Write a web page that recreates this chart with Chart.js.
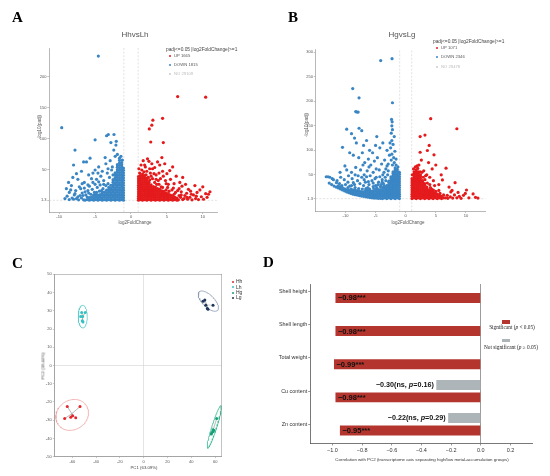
<!DOCTYPE html>
<html><head><meta charset="utf-8">
<script src="https://cdn.jsdelivr.net/npm/chart.js@4.4.1/dist/chart.umd.min.js"></script>
<style>
html,body{margin:0;padding:0;background:#fff;}
#wrap{position:relative;width:550px;height:476px;overflow:hidden;background:#fff;}
canvas{position:absolute;}
.t{position:absolute;white-space:nowrap;transform-origin:0 0;}
.dot{position:absolute;border-radius:50%;}
.box{position:absolute;}
</style></head><body><div id="wrap"></div>
<script>
// ---------------- DATA ----------------
// Panel A: HhvsLh volcano (log2FoldChange, -log10(padj))
const A_title = 'HhvsLh';
const A_counts = [1665, 1815, 29109];
const A_up_cols = [
 [1.05,[1.5,4.5,8,11.5,15,18.5,22,25.5,29,32.5,36,39.5]],
 [1.3,[2.5,6,9.5,13,16.5,20,23.5,27,30.5,34,37.5,41]],
 [1.6,[1.5,5,8.5,12,15.5,19,22.5,26,29.5,33,36.5,40,43.5]],
 [1.9,[2.5,6,9.5,13,16.5,20,23.5,27,30.5,34,37.5,41]],
 [2.2,[1.5,5,8.5,12,15.5,19,22.5,26,29.5,33,36.5]],
 [2.5,[2.5,6,9.5,13,16.5,20,23.5,27,30.5]],
 [2.8,[1.5,5,8.5,12,15.5,19,22.5,26]],
 [3.1,[2.5,6,9.5,13,16.5,20,23.5]],
 [3.4,[1.5,5,8.5,12,15.5,19,22.5]],
 [3.7,[2.5,6,9.5,13,16.5,20]],
 [4.0,[1.5,5,8.5,12,15.5,19]],
 [4.3,[2.5,6,9.5,13,16.5]],
 [4.6,[1.5,5,8.5,12,15.5]],
 [4.9,[2.5,6,9.5,13]],
 [5.2,[1.5,5,8.5,12]],
 [5.5,[2.5,6,9.5]],
 [5.8,[1.5,5,8.5]],
 [6.1,[2.5,6]],
 [6.4,[1.5,5]]
];
const A_up_pts = [
 [4.2,23],[3.9,27],[4.4,22],[4.9,18],[5.3,16],[6.0,11],[6.7,9],
 [1.2,45],[1.5,50],[1.8,47],[2.1,42],[2.4,38],[2.0,55],[2.3,68],[2.5,64],[1.4,58],[2.7,45],[3.0,36],[3.3,30],[3.5,42],[3.0,52],[3.8,33],[4.3,70],[4.7,60],[3.3,54],[5.4,49],[4.9,28],[1.1,52],[2.6,34],[3.6,27],[5.1,22],[4.5,40],[2.9,60],[1.7,65],[5.5,35],[6.0,28],[6.8,30],[7.2,38],[5.8,55],[4.0,58],[3.7,63],[2.2,48],[2.8,40],
 [3.2,44],[4.1,36],[4.8,33],[5.2,27],[5.9,21],[6.5,17],[7.1,24],[3.5,35],[2.6,52],[1.9,58],[4.4,48],[5.0,44],[6.3,40],[7.6,27],[8.3,16],[3.9,45],
 [6.6,2],[6.9,6],[7.2,2.5],[7.5,9],[7.75,12.6],[7.9,3],[8.2,6],[8.5,2],[8.7,10],[9.0,4],[9.2,14],[9.6,18],[9.8,7],[10.0,23],[10.1,3],[10.4,12],[10.8,11],[7.0,15],[8.0,19],[6.7,20],[9.4,2.5],[10.6,6],[8.9,25],[6.2,14],[5.7,18],[7.4,4],[11.0,15],[7.0,10],[7.8,6],[8.4,11],[9.1,8],
 [6.5,168],[10.4,167],[4.4,133],[3.05,130],[2.9,122],[2.55,116],[2.75,95],[4.5,94]
];
const A_down_cols = [
 [-1.05,[1.5,5.5,9.5,13.5,17.5,21.5,25.5,29.5,33.5,37.5,41.5,45.5,49.5,53]],
 [-1.3,[2.5,6.5,10.5,14.5,18.5,22.5,26.5,30.5,34.5,38.5,42.5,46.5,50.5,54.5,58.5,62]],
 [-1.6,[1.5,5.5,9.5,13.5,17.5,21.5,25.5,29.5,33.5,37.5,41.5,45.5,49.5,53.5,57.5,61.5,65.5,69]],
 [-1.9,[2.5,6.5,10.5,14.5,18.5,22.5,26.5,30.5,34.5,38.5,42.5,46.5,50.5,54.5,58.5]],
 [-2.2,[1.5,5.5,9.5,13.5,17.5,21.5,25.5,29.5,33.5,37.5,41.5,45.5]],
 [-2.5,[2.5,6.5,10.5,14.5,18.5,22.5,26.5,30.5,34.5]],
 [-2.8,[1.5,5.5,9.5,13.5,17.5,21.5,25.5]],
 [-3.1,[2.5,6.5,10.5,14.5,18.5,22]],
 [-3.4,[1.5,5.5,9.5,13.5,17.5]],
 [-3.7,[2.5,6.5,10.5,14.5]],
 [-4.0,[1.5,5.5,9.5,13.5]],
 [-4.3,[2.5,6.5,10.5]],
 [-4.6,[1.5,5.5,9.5]],
 [-4.9,[2.5,6.5,10.5]],
 [-5.2,[1.5,5.5,9.5]],
 [-5.5,[2.5,6.5]],
 [-5.8,[1.5,5.5]],
 [-6.1,[2.5,6.5]],
 [-6.4,[1.5]]
];
const A_down_pts = [
 [-4.1,17],[-4.4,16],[-4.8,14],[-5.1,14],[-5.4,19],[-4.7,22],[-3.9,20],[-4.3,26],[-5.9,13],[-6.4,15],[-6.6,2],[-6.9,5],[-7.1,9],[-7.3,2],[-7.6,4],[-6.7,9],[-6.3,10],
 [-5.6,11],[-6.0,17],[-6.8,13],[-7.4,7],[-7.9,10],[-8.2,5],[-7.7,17],[-7.2,23],[-6.5,21],[-5.8,24],[-5.0,27],[-4.5,31],[-3.8,27],[-5.5,36],[-6.8,28],[-7.6,44],[-8.7,30],[-8.1,38],[-9.0,20],[-8.6,2.5],[-5.3,45],[-4.6,45],[-3.2,52],
 [-2.9,65],[-3.6,70],[-2.2,72],[-1.9,75],[-2.6,55],[-3.3,45],[-3.0,38],[-3.8,33],[-4.2,40],[-4.8,35],[-5.3,30],[-5.7,69],[-6.2,63],[-6.6,63],[-8.0,58],[-7.8,82],[-6.9,48],[-7.4,35],[-6.0,26],[-8.3,25],[-8.6,14],[-8.9,8],[-9.2,4],[-8.4,18],[-7.0,20],[-5.0,50],[-4.5,55],[-3.5,60],[-2.4,82],[-2.1,90],[-2.05,96],[-2.8,94],[-2.37,107],[-3.16,107],[-3.4,105],[-6.5,30],[-7.8,12],[-8.0,3],[-5.9,42],[-4.0,48],[-2.7,50],[-3.2,28],[-1.4,72],[-1.2,66],[-2.5,42],[-3.5,25],
 [-4.55,233],[-9.65,118],[-5.0,98.5]
];

// Panel B: HgvsLg volcano
const B_title = 'HgvsLg';
const B_counts = [1071, 2346, 29478];
const B_up_cols = [
 [1.05,[1.5,6,10.5,15,19.5,24,28.5,33,37.5,42]],
 [1.4,[3,7.5,12,16.5,21,25.5,30,34.5,39,43.5,48,52.5,56]],
 [1.75,[1.5,6,10.5,15,19.5,24,28.5,33,37.5,42,46.5,51,55.5,60]],
 [2.1,[3,7.5,12,16.5,21,25.5,30,34.5,39,43.5,48,52.5,56]],
 [2.45,[1.5,6,10.5,15,19.5,24,28.5,33,37.5,42,46.5,50]],
 [2.8,[3,7.5,12,16.5,21,25.5,30,34.5,38]],
 [3.15,[1.5,6,10.5,15,19.5,24,28.5,32]],
 [3.5,[3,7.5,12,16.5,21,25]],
 [3.85,[1.5,6,10.5,15,19.5]],
 [4.2,[3,7.5,12,16.5]],
 [4.55,[1.5,6,10.5,15]],
 [4.9,[3,7.5,12]],
 [5.25,[1.5,6,10.5]],
 [5.6,[3,7.5]],
 [5.95,[1.5,6]],
 [6.3,[3]]
];
const B_up_pts = [
 [4.3,21],[4.6,19],[5.0,16],[5.7,12],[6.3,9],[6.6,3],[6.9,8],[5.5,18],[4.1,24],
 [1.3,62],[1.6,66],[2.0,63],[2.4,56],[2.9,45],[3.2,40],[3.6,33],[4.0,30],[2.2,70],[3.0,58],[3.5,50],[4.0,45],[4.6,38],[5.0,70],[6.7,63.5],[6.1,39.6],[8.2,34],[5.5,30],[3.8,75],[2.6,80],[7.2,25],[1.1,50],[4.4,62],[7.5,15],[5.9,50],[1.9,68],[2.7,55],[3.3,48],[4.8,28],
 [7.0,2],[7.4,5],[7.8,2.5],[8.1,9],[8.5,3],[8.9,6],[9.2,2],[9.6,8],[10.1,19],[10.5,3],[11.2,10.9],[11.6,4],[9.9,12],[8.7,14],[12.0,2.5],[7.7,18],
 [4.15,164.5],[8.5,144],[2.4,128],[3.2,131],[3.6,99.6],[2.4,96],[4.7,90.8],[3.9,110]
];
const B_down_cols = [
 [-1.05,[1.5,6,10.5,15,19.5,24,28.5,33,37.5,42,46.5,51,55]],
 [-1.4,[3,7.5,12,16.5,21,25.5,30,34.5,39,43.5,48,52.5,57,61]],
 [-1.75,[1.5,6,10.5,15,19.5,24,28.5,33,37.5,42,46.5,51,55.5,60,64]],
 [-2.1,[3,7.5,12,16.5,21,25.5,30,34.5,39,43.5,48,52.5,56]],
 [-2.45,[1.5,6,10.5,15,19.5,24,28.5,33,37.5,42,46]],
 [-2.8,[3,7.5,12,16.5,21,25.5,30,34.5,37]],
 [-3.15,[1.5,6,10.5,15,19.5,24,28]],
 [-3.5,[3,7.5,12,16.5,21,24.5]],
 [-3.85,[1.5,6,10.5,15,19.5,24]],
 [-4.2,[2,6.5,11,15.5,20]],
 [-4.55,[2,6.5,11,15.5,20]],
 [-4.9,[2.5,7,11.5,16,20.5]],
 [-5.25,[2.5,7,11.5,16]],
 [-5.6,[3,7.5,12,16.5]],
 [-5.95,[3.5,8,12.5,17]],
 [-6.3,[4.5,9,13.5,18]],
 [-6.65,[5,9.5,14,18.5]],
 [-7.0,[6,10.5,15]],
 [-7.35,[6.5,11,15.5]],
 [-7.7,[7.5,12,16.5]],
 [-8.05,[8.5,13,17.5]],
 [-8.4,[9.5,14,18.5]],
 [-8.75,[10.5,15,19.5]],
 [-9.1,[12,16.5,21]],
 [-9.45,[13.5,18]],
 [-9.8,[15,19.5]],
 [-10.15,[17,21.5]],
 [-10.5,[19,23.5]],
 [-10.85,[21,25.5]],
 [-11.2,[23,27.5]],
 [-11.55,[25]],
 [-11.9,[27]],
 [-12.3,[30]],
 [-12.7,[33]]
];
const B_down_pts = [
 [-13.2,46],[-12.9,46],[-12.6,45],
 [-2.2,70],[-1.9,75],[-2.4,80],[-2.0,85],[-2.3,92],[-1.8,98],[-2.5,105],[-2.1,112],[-2.3,120],[-1.9,128],[-2.4,135],[-2.2,142],[-2.3,150],[-2.25,158],[-2.35,163],[-2.2,197],[-2.7,90],[-2.9,72],[-1.6,82],[-2.6,115],[-3.1,100],[-1.3,66],[-1.6,70],
 [-8.8,226],[-7.75,207],[-8.3,179],[-7.9,178],[-8.1,178],[-9.8,143],[-7.75,145],[-7.3,140],[-9.0,134],[-8.5,125],[-4.8,128],[-10.5,106],[-10.1,68],[-8.2,115],[-7.0,110],[-6.5,120],[-6.0,100],[-5.5,95],[-5.0,110],[-4.3,105],[-3.8,115],[-9.3,95],[-8.7,90],[-7.8,85],[-7.2,95],[-6.8,75],[-6.2,82],[-5.8,70],[-5.2,78],[-4.7,85],[-4.0,72],[-3.5,80],[-9.8,60],[-9.0,55],[-8.3,65],[-7.5,60],[-6.9,50],[-6.4,58],[-5.9,48],[-5.4,55],[-4.9,45],[-4.4,60],[-3.8,50],[-3.3,62],[-10.8,45],[-10.2,40],[-9.6,35],[-8.9,42],[-8.0,38],[-7.3,45],[-6.7,35],[-6.1,30],[-5.6,38],[-5.0,28],[-4.5,35],[-3.9,40],[-3.4,45],[-3.0,50],[-11.4,38],[-12.0,40],[-7.0,28],[-8.5,30],[-9.3,27],[-10.0,30],[-6.3,24],[-5.3,22],[-4.1,30],[-3.7,32],[-11.0,32],
 [-9.6,24],[-9.0,28],[-8.4,24],[-7.8,22],[-7.2,21],[-6.6,22],[-6.0,21],[-5.4,26],[-4.8,24],[-4.2,26],[-3.6,28],[-8.7,34],[-7.6,32],[-6.9,40],[-6.2,36],[-5.4,33],[-4.6,30],[-3.9,35],[-3.3,38],[-10.6,28],[-11.5,34],[-12.2,42],[-7.9,48],[-6.5,46],[-5.1,42],[-4.3,46],[-3.6,55],[-2.9,58],[-3.1,68],[-4.9,62],[-6.1,66],[-7.1,70],[-8.4,50],[-9.5,48],[-10.9,55],
 [-4.15,283],[-2.27,287]
];
const volClasses = ['UP','DOWN','NO'];
const lfcCut = 1, padjCut = 1.3;
const volXTicks = [-10,-5,0,5,10];
const A_yTicks = [1.3,50,100,150,200];
const B_yTicks = [1.3,50,100,150,200,250,300];

// Panel C: PCA
const pcaGroups = ['Hh','Lh','Hg','Lg'];
const Hh_pc1 = [-64.2,-53.5,-66.4,-61.3,-59.7,-57.1];
const Hh_pc2 = [-22.5,-22.5,-29.1,-28.4,-27.5,-28.7];
const Lh_pc1 = [-52.1,-49.1,-52.9,-51.3,-51.6,-51.0];
const Lh_pc2 = [29.1,29.1,26.9,26.9,24.6,23.8];
const Hg_pc1 = [61.3,58.2,57.1,56.8,58.8,58.0];
const Hg_pc2 = [-29.1,-35.2,-37.0,-37.5,-35.5,-36.3];
const Lg_pc1 = [49.8,51.3,52.1,53.4,54.0,58.2];
const Lg_pc2 = [35.2,35.9,33.1,31.3,30.9,33.0];
// ellipse: centre (pc1,pc2) and two semi-axis vectors
const Hh_ell = [-60.1,-27.1, 12.9,3.95, -4.6,7.5];
const Lh_ell = [-51.2,26.8, 3.8,0, 0,6.2];
const Hg_ell = [59.3,-33.7, 5.6,11.7, 2.0,-0.41];
const Lg_ell = [54.3,35.3, 7.7,-5.05, 3.56,2.33];
const pcaXTicks = [-60,-40,-20,0,20,40,60];
const pcaYTicks = [-50,-40,-30,-20,-10,0,10,20,30,40,50];

// Panel D: correlation with PC2
const traits = ['Shell height','Shell length','Total weight','Cu content','Zn content'];
const sigR = [-0.98,-0.98,-0.99,-0.98,-0.95];
const nsR = [null,null,null,-0.30,-0.22];
const nsP = [null,null,null,0.16,0.29];
const corrTicks = [-1.0,-0.8,-0.6,-0.4,-0.2,0.0,0.2];

// ---------------- STYLE / HELPERS ----------------
const FONT = "'Liberation Sans', Arial, sans-serif";
const SERIF = "'Liberation Serif', 'Times New Roman', serif";
const RED = '#E41A1C', BLUE = '#3A86C5', NOCOL = '#CCCCCC';
const DRED = '#B3352D', DGREY = '#ADB5B8';
const PR = 1.6;
const wrap = document.getElementById('wrap');
const K = 4;
function T(html, x, y, size, o = {}) {
  const d = document.createElement('div'); d.className = 't';
  d.innerHTML = html;
  d.style.fontFamily = o.family || FONT;
  d.style.fontSize = (size*K)+'px';
  d.style.lineHeight = (size*K)+'px';
  d.style.fontWeight = o.weight || 'normal';
  d.style.color = o.color || '#000';
  if (o.rot) {
    d.style.left = x+'px'; d.style.top = y+'px';
    d.style.transform = `rotate(-90deg) scale(${1/K}) translate(-50%,-50%)`;
  } else {
    d.style.left = x+'px'; d.style.top = (y - 0.845*size)+'px';
    const tx = o.align === 'center' ? '-50%' : o.align === 'right' ? '-100%' : '0';
    d.style.transform = `scale(${1/K}) translateX(${tx})`;
  }
  wrap.appendChild(d);
}
function dot(x, y, r, c) {
  const d = document.createElement('div'); d.className = 'dot';
  d.style.left = (x-r)+'px'; d.style.top = (y-r)+'px';
  d.style.width = (2*r)+'px'; d.style.height = (2*r)+'px'; d.style.background = c;
  wrap.appendChild(d);
}
function rect(x, y, w, h, c) {
  const d = document.createElement('div'); d.className = 'box';
  d.style.left = x+'px'; d.style.top = y+'px'; d.style.width = w+'px'; d.style.height = h+'px'; d.style.background = c;
  wrap.appendChild(d);
}
function mk(id, box) {
  const c = document.createElement('canvas');
  c.id = id; c.width = box[2]; c.height = box[3];
  c.style.left = box[0]+'px'; c.style.top = box[1]+'px';
  c.style.width = box[2]+'px'; c.style.height = box[3]+'px';
  wrap.appendChild(c); return c;
}
function fit(box, area) {
  return { padding: {left: 0, top: area[1]-box[1], right: box[0]+box[2]-area[2], bottom: 0},
           yw: area[0]-box[0], xh: box[1]+box[3]-area[3] };
}
const colsToPts = cols => { const o = []; cols.forEach(([x, ys]) => ys.forEach(y => o.push({x, y}))); return o; };
const pairsToPts = a => a.map(([x, y]) => ({x, y}));
const fmtR = v => (v < 0 ? '\u2212' : '') + Math.abs(v).toFixed(2);

// ---------------- VOLCANO ----------------
function volcano(id, box, area, up, down, xr, yr, yTicks) {
  const f = fit(box, area);
  const ln = (a, b) => ({type:'line', data:[a, b], borderColor:'#cfcfcf', borderWidth:0.6, borderDash:[2,1.6], pointRadius:0, showLine:true, order:5});
  const ax = (ticks, sizeKey, sizeVal, cb) => ({
    type:'linear',
    afterFit: s => { s[sizeKey] = sizeVal; },
    afterBuildTicks: s => { s.ticks = ticks.map(v => ({value:v})); },
    ticks:{font:{size:4,family:FONT}, color:'#555', padding:0.8, callback: cb || (v => String(v)), autoSkip:false, maxRotation:0},
    grid:{drawOnChartArea:false, tickLength:2, tickColor:'#888', tickWidth:0.5},
    border:{color:'#888', width:0.6}
  });
  const xs = ax(volXTicks, 'height', f.xh); xs.min = xr[0]; xs.max = xr[1];
  const ys = ax(yTicks, 'width', f.yw, v => v === padjCut ? '1.3' : String(v)); ys.min = yr[0]; ys.max = yr[1];
  new Chart(mk(id, box), {
    type:'scatter',
    data:{datasets:[
      {data: up, backgroundColor: RED, borderWidth:0, pointRadius:PR, order:1},
      {data: down, backgroundColor: BLUE, borderWidth:0, pointRadius:PR, order:1},
      ln({x:-lfcCut, y:yr[0]}, {x:-lfcCut, y:yr[1]}),
      ln({x:lfcCut, y:yr[0]}, {x:lfcCut, y:yr[1]}),
      ln({x:xr[0], y:padjCut}, {x:xr[1], y:padjCut})
    ]},
    options:{responsive:false, animation:false, events:[], layout:{padding:f.padding},
      plugins:{legend:{display:false}, tooltip:{enabled:false}},
      scales:{x:xs, y:ys}}
  });
}

volcano('cA', [0,0,275,240], [49.3,48,217,212],
  colsToPts(A_up_cols).concat(pairsToPts(A_up_pts)),
  colsToPts(A_down_cols).concat(pairsToPts(A_down_pts)),
  [-11.38, 11.98], [-17.5, 246], A_yTicks);
volcano('cB', [275,0,275,240], [315.7,49,485.7,211],
  colsToPts(B_up_cols).concat(pairsToPts(B_up_pts)),
  colsToPts(B_down_cols).concat(pairsToPts(B_down_pts)),
  [-14.95, 13.29], [-23.9, 306.7], B_yTicks);

// ---------------- PCA ----------------
(function(){
  const box = [0,250,260,226], area = [54.3,274.3,221.7,456.7];
  const f = fit(box, area);
  const G = [
    {pc1:Hh_pc1, pc2:Hh_pc2, ell:Hh_ell, col:'#E5262B', ecol:'#F0A2A2'},
    {pc1:Lh_pc1, pc2:Lh_pc2, ell:Lh_ell, col:'#35C0C2', ecol:'#5FCACB'},
    {pc1:Hg_pc1, pc2:Hg_pc2, ell:Hg_ell, col:'#179E78', ecol:'#33B78F'},
    {pc1:Lg_pc1, pc2:Lg_pc2, ell:Lg_ell, col:'#1D3557', ecol:'#8B9AB4'}
  ];
  const ds = [];
  G.forEach(g => {
    const pts = g.pc1.map((x, i) => ({x, y:g.pc2[i]}));
    const c = {x: g.pc1.reduce((a,b)=>a+b,0)/g.pc1.length, y: g.pc2.reduce((a,b)=>a+b,0)/g.pc2.length};
    const e = g.ell, ep = [];
    for (let k = 0; k <= 80; k++) { const t = 2*Math.PI*k/80;
      ep.push({x: e[0] + e[2]*Math.cos(t) + e[4]*Math.sin(t), y: e[1] + e[3]*Math.cos(t) + e[5]*Math.sin(t)}); }
    const star = []; pts.forEach(p => { star.push(c); star.push(p); });
    ds.push({type:'line', data:ep, borderColor:g.ecol, borderWidth:0.8, pointRadius:0, showLine:true, tension:0, order:3});
    ds.push({type:'line', data:star, borderColor:'#A8A8A8', borderWidth:0.5, pointRadius:0, showLine:true, tension:0, order:2});
    ds.push({data:pts, backgroundColor:g.col, borderWidth:0, pointRadius:1.5, order:1});
  });
  const zeroGrid = c => (c.tick && c.tick.value === 0) ? '#d2d2d2' : 'rgba(0,0,0,0)';
  const ax = (ticks, key, val, mn, mx) => ({
    type:'linear', min:mn, max:mx,
    afterFit: s => { s[key] = val; },
    afterBuildTicks: s => { s.ticks = ticks.map(v => ({value:v})); },
    ticks:{font:{size:4,family:FONT}, color:'#555', padding:1.2, autoSkip:false, maxRotation:0, callback: v => String(v)},
    grid:{color:zeroGrid, lineWidth:0.6, tickLength:1.5, tickColor:'#999', tickWidth:0.5},
    border:{color:'#888', width:0.6}
  });
  const frame = {id:'frame', afterDraw(ch){ const a = ch.chartArea, x = ch.ctx; x.save(); x.strokeStyle = '#9a9a9a'; x.lineWidth = 0.6; x.strokeRect(a.left, a.top, a.right-a.left, a.bottom-a.top); x.restore(); }};
  new Chart(mk('cC', box), {
    type:'scatter', data:{datasets:ds},
    options:{responsive:false, animation:false, events:[], layout:{padding:f.padding},
      plugins:{legend:{display:false}, tooltip:{enabled:false}},
      scales:{x:ax(pcaXTicks, 'height', f.xh, -75.1, 65.5), y:ax(pcaYTicks, 'width', f.yw, -50, 50)}},
    plugins:[frame]
  });
  // legend
  const ly = [281.7, 287.1, 292.6, 298];
  pcaGroups.forEach((g, i) => { dot(232.7, ly[i], 1.1, G[i].col); T(g, 236.3, ly[i]+1.7, 5, {color:'#333'}); });
})();

// ---------------- CORRELATION BARS ----------------
(function(){
  const box = [262,270,288,206], area = [310.7,284,532.7,443];
  const f = fit(box, area);
  const labels = {id:'barLabels', afterDatasetsDraw(ch){
    const ctx = ch.ctx; ctx.save(); ctx.fillStyle = '#111'; ctx.textBaseline = 'middle';
    ch.getDatasetMeta(1).data.forEach((el, i) => {
      ctx.font = `bold 7.5px ${FONT}`; ctx.textAlign = 'left';
      ctx.fillText(fmtR(sigR[i]) + '***', el.x + 2.5, el.y + 0.4);
    });
    ch.getDatasetMeta(0).data.forEach((el, i) => {
      if (nsR[i] == null) return;
      const parts = [[fmtR(nsR[i]) + '(ns, ', 'bold '], ['p', 'italic bold '], ['=' + nsP[i].toFixed(2) + ')', 'bold ']];
      let w = 0; parts.forEach(p => { ctx.font = p[1] + '7.2px ' + FONT; w += ctx.measureText(p[0]).width; });
      let x = el.x - 2.5 - w; ctx.textAlign = 'left';
      parts.forEach(p => { ctx.font = p[1] + '7.2px ' + FONT; ctx.fillText(p[0], x, el.y + 0.4); x += ctx.measureText(p[0]).width; });
    });
    ctx.restore();
  }};
  new Chart(mk('cD', box), {
    type:'bar',
    data:{datasets:[
      {label:'Not significant', data: traits.map((t, i) => ({x:nsR[i], y:i})), backgroundColor:DGREY, borderWidth:0},
      {label:'Significant', data: traits.map((t, i) => ({x:sigR[i], y:i})), backgroundColor:DRED, borderWidth:0}
    ]},
    options:{indexAxis:'y', responsive:false, animation:false, events:[], layout:{padding:f.padding},
      datasets:{bar:{categoryPercentage:0.75, barPercentage:0.8}},
      plugins:{legend:{display:false}, tooltip:{enabled:false}},
      scales:{
        y:{type:'linear', reverse:true, min:-0.232, max:4.564, offset:false,
           afterFit: s => { s.width = f.yw; },
           afterBuildTicks: s => { s.ticks = traits.map((t, i) => ({value:i})); },
           ticks:{font:{size:5.4,family:FONT}, color:'#333', padding:1, autoSkip:false, callback: v => traits[v]},
           grid:{offset:false, drawOnChartArea:false, tickLength:2.5, tickColor:'#555', tickWidth:0.6},
           border:{color:'#555', width:0.8}},
        x:{type:'linear', min:-1.147, max:0.35,
           afterFit: s => { s.height = f.xh; },
           afterBuildTicks: s => { s.ticks = corrTicks.map(v => ({value:v})); },
           ticks:{font:{size:5.5,family:FONT}, color:'#333', padding:1.5, autoSkip:false, maxRotation:0,
                  callback: v => (v < -1e-9 ? '\u2212' : '') + Math.abs(v).toFixed(1)},
           grid:{color: c => (c.tick && Math.abs(c.tick.value) < 1e-9) ? '#9c9c9c' : 'rgba(0,0,0,0)', lineWidth:1, tickLength:2.5, tickColor:'#555', tickWidth:0.6},
           border:{color:'#555', width:0.8}}
      }},
    plugins:[labels]
  });
  rect(501.5, 319.5, 8.5, 4, DRED);
  T('Significant (<i>p</i> &lt; 0.05)', 512, 329.8, 5.3, {family:SERIF, align:'center', color:'#222'});
  rect(501.5, 338.5, 8.5, 3.5, DGREY);
  T('Not significant (<i>p</i> \u2265 0.05)', 510.7, 349.5, 5.3, {family:SERIF, align:'center', color:'#222'});
  T('Correlation with PC2 (transcriptome axis separating high/low metal-accumulation groups)', 421.7, 460.3, 4.4, {align:'center', color:'#333'});
})();

// ---------------- TEXT: letters, titles, legends, axis titles ----------------
T('A', 11.7, 21.7, 15, {family:SERIF, weight:'bold'});
T('B', 287.7, 21.7, 15, {family:SERIF, weight:'bold'});
T('C', 11.7, 267.7, 15, {family:SERIF, weight:'bold'});
T('D', 262.7, 266.7, 15, {family:SERIF, weight:'bold'});

T(A_title, 135, 36.8, 8, {align:'center', color:'#555'});
T(B_title, 401.7, 36.8, 8, {align:'center', color:'#555'});

function volLegend(x0, yTitle, ys, counts) {
  T('padj&lt;=0.05 |log2FoldChange|&gt;=1', x0, yTitle, 4.8, {color:'#444'});
  const cols = [RED, BLUE, NOCOL];
  const tcols = ['#555', '#555', '#bbb'];
  volClasses.forEach((c, i) => { dot(x0 + 4, ys[i], 1.2, cols[i]); T(c + ' ' + counts[i], x0 + 7.8, ys[i] + 1.5, 4.2, {color:tcols[i]}); });
}
volLegend(165.7, 51, [56, 65, 74], A_counts);
volLegend(433, 43.4, [48.3, 57.3, 66.7], B_counts);

T('log2FoldChange', 135, 224.3, 4.5, {align:'center', color:'#555'});
T('log2FoldChange', 407.5, 223.9, 4.5, {align:'center', color:'#555'});
T('-log10(padj)', 39, 126.7, 4.5, {rot:true, color:'#555'});
T('-log10(padj)', 305.7, 125, 4.5, {rot:true, color:'#555'});
T('PC1 (63.09%)', 143.7, 468.3, 4.3, {align:'center', color:'#444'});
T('PC2 (18.44%)', 42.7, 365.5, 4.3, {rot:true, color:'#444'});
</script></body></html>
